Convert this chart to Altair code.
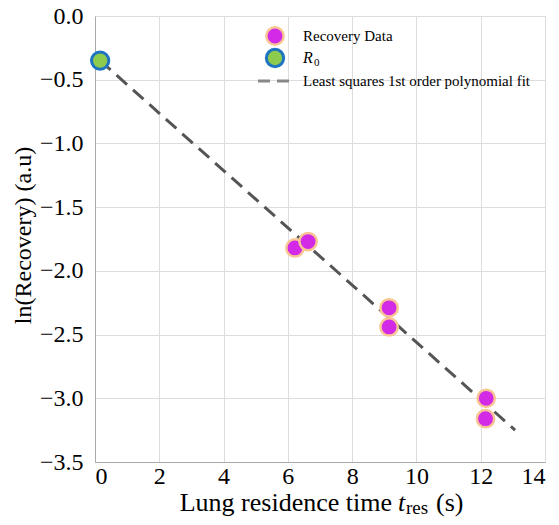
import altair as alt
import pandas as pd

# Data
t_rec = [6.22, 6.63, 9.15, 9.15, 12.17, 12.15]
ln_rec = [-1.82, -1.77, -2.29, -2.44, -3.00, -3.16]
t_r0 = [0.16]
ln_r0 = [-0.35]
fit_t = [0.16, 13.07]
fit_ln = [-0.35, -3.25]

x_ticks = [0, 2, 4, 6, 8, 10, 12, 14]
y_ticks = [0.0, -0.5, -1.0, -1.5, -2.0, -2.5, -3.0, -3.5]

legend_labels = ["Recovery Data", "Least squares 1st order polynomial fit"]
legend_y = [20, 65]
r0_legend_y = 42

FONT = "Liberation Serif"
MAGENTA = "#d22ae6"
PEACH = "#f9c594"
GREEN = "#8dcb4e"
BLUE = "#1f74c2"
GRAY = "#555555"

rec = pd.DataFrame({"t": t_rec, "ln": ln_rec})
r0 = pd.DataFrame({"t": t_r0, "ln": ln_r0})
fit = pd.DataFrame({"t": fit_t, "ln": fit_ln})

xs = alt.Scale(domain=[0, 14], nice=False, zero=False)
ys = alt.Scale(domain=[-3.5, 0.0], nice=False, zero=False)

x_axis = alt.Axis(values=x_ticks, format="d", title=None, labelPadding=2)
y_axis = alt.Axis(values=y_ticks, format=".1f", title="ln(Recovery) (a.u)",
                  titlePadding=4, labelPadding=12, titleY=219, titleFontSize=24)

fit_line = alt.Chart(fit).mark_line(color=GRAY, strokeWidth=3, strokeDash=[14, 8]).encode(
    x=alt.X("t:Q", scale=xs, axis=x_axis),
    y=alt.Y("ln:Q", scale=ys, axis=y_axis),
)
rec_pts = alt.Chart(rec).mark_point(shape="circle", filled=True, fill=MAGENTA, stroke=PEACH,
                                    strokeWidth=2.5, size=300, opacity=1).encode(
    x=alt.X("t:Q", scale=xs), y=alt.Y("ln:Q", scale=ys))
r0_pts = alt.Chart(r0).mark_point(shape="circle", filled=True, fill=GREEN, stroke=BLUE,
                                  strokeWidth=3, size=300, opacity=1).encode(
    x=alt.X("t:Q", scale=xs), y=alt.Y("ln:Q", scale=ys))

# manual legend
one = pd.DataFrame({"a": [0]})
lg1 = alt.Chart(one).mark_point(shape="circle", filled=True, fill=MAGENTA, stroke=PEACH,
                                strokeWidth=2.5, size=300, opacity=1).encode(
    x=alt.value(180), y=alt.value(legend_y[0]))
lg2 = alt.Chart(one).mark_point(shape="circle", filled=True, fill=GREEN, stroke=BLUE,
                                strokeWidth=3, size=300, opacity=1).encode(
    x=alt.value(180), y=alt.value(r0_legend_y))
lg3 = alt.Chart(one).mark_rule(color="#888888", strokeWidth=3, strokeDash=[12, 7]).encode(
    x=alt.value(163), x2=alt.value(195), y=alt.value(legend_y[1]))
lg_text = alt.Chart(pd.DataFrame({"label": legend_labels, "yy": legend_y})).mark_text(
    align="left", baseline="middle", font=FONT, fontSize=15, color="black").encode(
    x=alt.value(208), y=alt.Y("yy:Q", scale=None), text="label:N")


def text_part(txt, x, y, size, style="normal", align="left"):
    return alt.Chart(one).mark_text(
        text=txt, align=align, baseline="alphabetic", font=FONT, fontSize=size,
        fontStyle=style, color="black").encode(x=alt.value(x), y=alt.value(y))


lg_r = text_part("R", 208, r0_legend_y + 5, 16, style="italic")
lg_0 = text_part("0", 219, r0_legend_y + 8, 11)

# x-axis title with italic t and subscript "res"
xt1 = text_part("Lung residence time", 297, 495, 26, align="right")
xt2 = text_part("t", 303, 495, 26, style="italic")
xt3 = text_part("res", 311, 498, 19)
xt4 = text_part("(s)", 341, 495, 26)

chart = alt.layer(fit_line, rec_pts, r0_pts, lg1, lg2, lg3, lg_text, lg_r, lg_0,
                  xt1, xt2, xt3, xt4).properties(
    width=450, height=446,
    autosize=alt.AutoSizeParams(type="none"),
    padding={"left": 87, "top": 8, "right": 6, "bottom": 55},
).configure_view(stroke="#aaaaaa", strokeWidth=1).configure(
    background="white", font=FONT
).configure_axis(
    labelFont=FONT, titleFont=FONT, labelFontSize=24,
    titleFontWeight="normal", labelColor="black", titleColor="black",
    tickSize=0, domainColor="#aaaaaa", gridColor="#dddddd",
)

chart.save("out.html", embed_options={"renderer": "svg", "actions": False})
